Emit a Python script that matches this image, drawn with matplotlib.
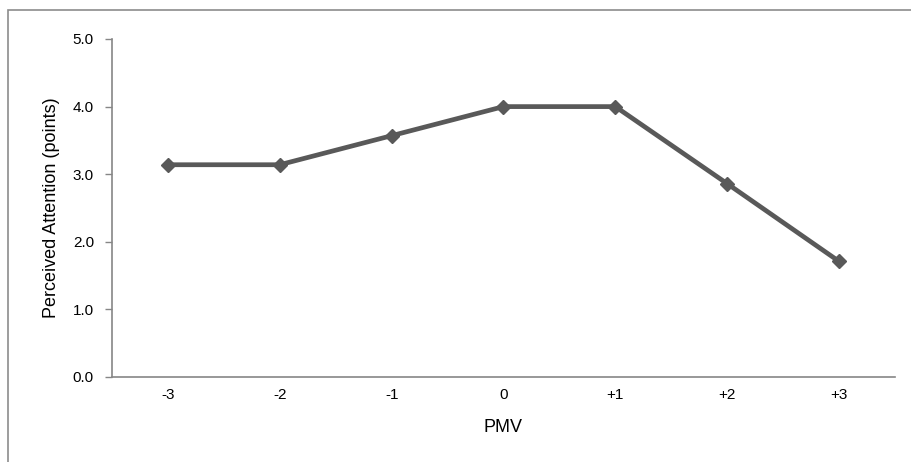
import matplotlib
matplotlib.use("Agg")
import matplotlib.pyplot as plt
from matplotlib.patches import Rectangle

# PMV categories and perceived attention scores
pmv_labels = ["-3", "-2", "-1", "0", "+1", "+2", "+3"]
attention = [3.14, 3.14, 3.57, 4.00, 4.00, 2.86, 1.71]

plt.rcParams['font.family'] = ['Liberation Sans', 'DejaVu Sans']

fig = plt.figure(figsize=(9.12, 4.62), dpi=100)
ax = fig.add_axes([112/912, 1 - 377/462, (895 - 112)/912, (377 - 39)/462])

x = list(range(len(pmv_labels)))
ax.plot(x, attention, color='#595959', linewidth=3.4, marker='D',
        markersize=7.5, markerfacecolor='#595959', markeredgecolor='#595959')

ax.set_xlim(-0.5, len(pmv_labels) - 0.5)
ax.set_ylim(0, 5)
ax.set_xticks(x)
ax.set_xticklabels(pmv_labels)
ax.set_yticks([0, 1, 2, 3, 4, 5])
ax.set_yticklabels(["%.1f" % v for v in [0, 1, 2, 3, 4, 5]])

for s in ['top', 'right']:
    ax.spines[s].set_visible(False)
for s in ['left', 'bottom']:
    ax.spines[s].set_color('#868686')
    ax.spines[s].set_linewidth(1.2)

ax.tick_params(axis='x', length=0, pad=8, labelsize=11)
ax.tick_params(axis='y', length=5, width=1, color='#868686', pad=8, labelsize=11)

ax.set_xlabel("PMV", fontsize=13, labelpad=12)
ax.set_ylabel("Perceived Attention (points)", fontsize=13, labelpad=9)

# chart area border
fig.patches.append(Rectangle((8.5/912, -0.1), 1.2, 1 - 9.5/462 + 0.1,
                             transform=fig.transFigure, fill=False,
                             edgecolor='#8c8c8c', linewidth=1.2))

fig.savefig("out.png", dpi=100)
